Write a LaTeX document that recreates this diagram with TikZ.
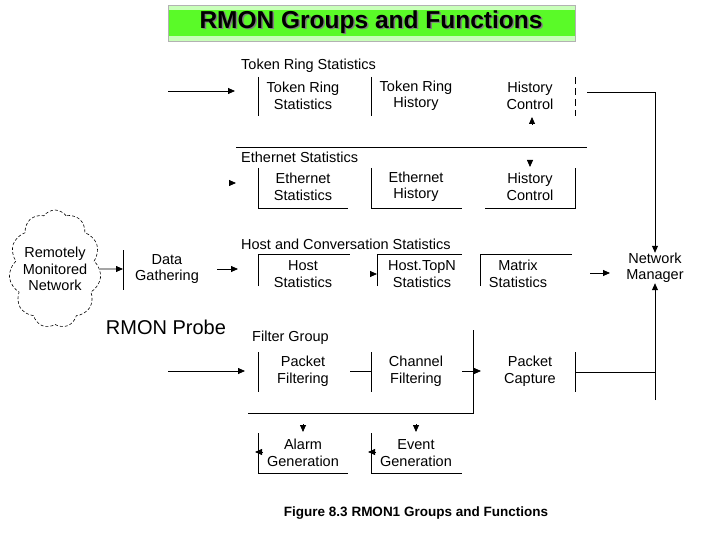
\documentclass[tikz,border=0pt]{standalone}
\usepackage{fontspec}
\setmainfont{Liberation Sans}
\usetikzlibrary{shapes.symbols,arrows.meta}
\definecolor{titlegreen}{RGB}{90,250,40}
\definecolor{titlepale}{RGB}{200,255,185}
\begin{document}
\begin{tikzpicture}[x=1pt,y=-1pt,
  txt/.style={font=\fontsize{14.5}{16.5}\selectfont,align=center,inner sep=0pt},
  lbl/.style={font=\fontsize{14.5}{16.5}\selectfont,anchor=west,inner sep=0pt},
  ln/.style={line width=0.8pt},
  arr/.style={ln,-{Triangle[length=7pt,width=6pt]}},
]
\useasboundingbox (0,0) rectangle (720,540);
% title
\fill[titlepale] (168,5) rectangle (575,41);
\fill[titlegreen] (168,10) rectangle (575,36);
\draw[gray!60,line width=0.5pt] (168,5) rectangle (575,41);
\node[font=\fontsize{24.5}{26}\selectfont\bfseries,inner sep=0pt,text=gray] at (372.5,23.5) {RMON Groups and Functions};
\node[font=\fontsize{24.5}{26}\selectfont\bfseries,inner sep=0pt] (title) at (371,22) {RMON Groups and Functions};

% token ring row
\node[lbl] (trlbl) at (241,66) {Token Ring Statistics};
\node[txt] (trs) at (303,96) {Token Ring\\Statistics};
\node[txt] (trh) at (416,96) {Token Ring\\History};
\node[txt] (trc) at (530,96) {History\\Control};
\draw[ln] (258,77) -- (258,116);
\draw[ln] (371,77) -- (371,116);
\draw[ln,dash pattern=on 7pt off 4pt] (575,77) -- (575,116);
\coordinate (tin) at (168,91);
\coordinate (tinend) at (235,91);
\draw[arr] (tin) -- (tinend);
\draw[arr] (532,124) -- (532,117);

% separator
\draw[ln] (236,147) -- (587,147);

% ethernet row
\node[lbl] (etlbl) at (241,157) {Ethernet Statistics};
\node[txt] (ets) at (303,187) {Ethernet\\Statistics};
\node[txt] (eth) at (416,187) {Ethernet\\History};
\node[txt] (etc) at (530,187) {History\\Control};
\draw[ln] (258,168) -- (258,208) -- (348,208);
\draw[ln] (371,168) -- (371,208) -- (462,208);
\draw[ln] (485,208) -- (575,208) -- (575,168);
\draw[arr] (530,160) -- (530,167);
\draw[arr] (229,183) -- (236,183);

% cloud and data gathering
\node[cloud,draw,line width=0.6pt,densely dashed,cloud puffs=11,cloud puff arc=110,aspect=0.8,minimum width=92pt,minimum height=118pt,inner sep=0pt] (net) at (55,269) {};
\node[txt] (nettxt) at (55,269) {Remotely\\Monitored\\Network};
\coordinate (dgbar) at (123,269);
\draw[ln] (123,250) -- (123,290);
\draw[arr] (net.east) -- (dgbar);
\node[txt] (dg) at (167,269) {Data\\Gathering};
\coordinate (dgout) at (217,269);
\coordinate (hin) at (238,269);
\draw[arr] (dgout) -- (hin);

% host row
\node[lbl] (hlbl) at (241,244) {Host and Conversation Statistics};
\node[txt] (hs) at (303,274) {Host\\Statistics};
\node[txt] (ht) at (422,274) {Host.TopN\\Statistics};
\node[txt] (hm) at (518,274) {Matrix\\Statistics};
\draw[ln] (258,286) -- (258,254) -- (350,254);
\draw[ln] (377,286) -- (377,254) -- (462,254);
\draw[ln] (480,286) -- (480,254) -- (572,254);
\draw[arr] (371,274) -- (377,274);

% network manager
\node[txt] (nm) at (655,268) {Network\\Manager};
\coordinate (hout) at (590,273);
\draw[arr] (hout) -- (610,273);
\coordinate (topc) at (587,92);
\draw[arr] (topc) -| (nm.north);
\coordinate (botc) at (575,372);
\draw[arr] (655,400) -- (nm.south);
\draw[ln] (botc) -- (655,372);
\draw[ln] (575,352) -- (575,392);

\node[font=\fontsize{20}{22}\selectfont,inner sep=0pt] (probe) at (166,327) {RMON Probe};

% filter group
\node[lbl] (flbl) at (252,338) {Filter Group};
\node[txt] (pf) at (303,371) {Packet\\Filtering};
\node[txt] (cf) at (416,371) {Channel\\Filtering};
\node[txt] (pc) at (530,371) {Packet\\Capture};
\coordinate (fin) at (168,371);
\draw[arr] (fin) -- (245,371);
\draw[ln] (258,352) -- (258,392);
\draw[ln] (371,352) -- (371,392);
\draw[ln] (350,371) -- (371,371);
\draw[ln] (473,330) -- (473,413) -- (248,413);
\draw[arr] (462,371) -- (481,371);

% alarm / event
\node[txt] (al) at (303,453) {Alarm\\Generation};
\node[txt] (ev) at (416,453) {Event\\Generation};
\draw[arr] (303,424) -- (303,432);
\draw[arr] (416,424) -- (416,432);
\draw[ln] (258,433) -- (258,473) -- (348,473);
\draw[ln] (371,433) -- (371,473) -- (462,473);
\draw[arr] (263,452) -- (255,452);
\draw[arr] (376,452) -- (368,452);

\node[font=\fontsize{13.5}{16}\selectfont\bfseries,inner sep=0pt] (cap) at (416,513) {Figure 8.3 RMON1 Groups and Functions};
\end{tikzpicture}
\end{document}
